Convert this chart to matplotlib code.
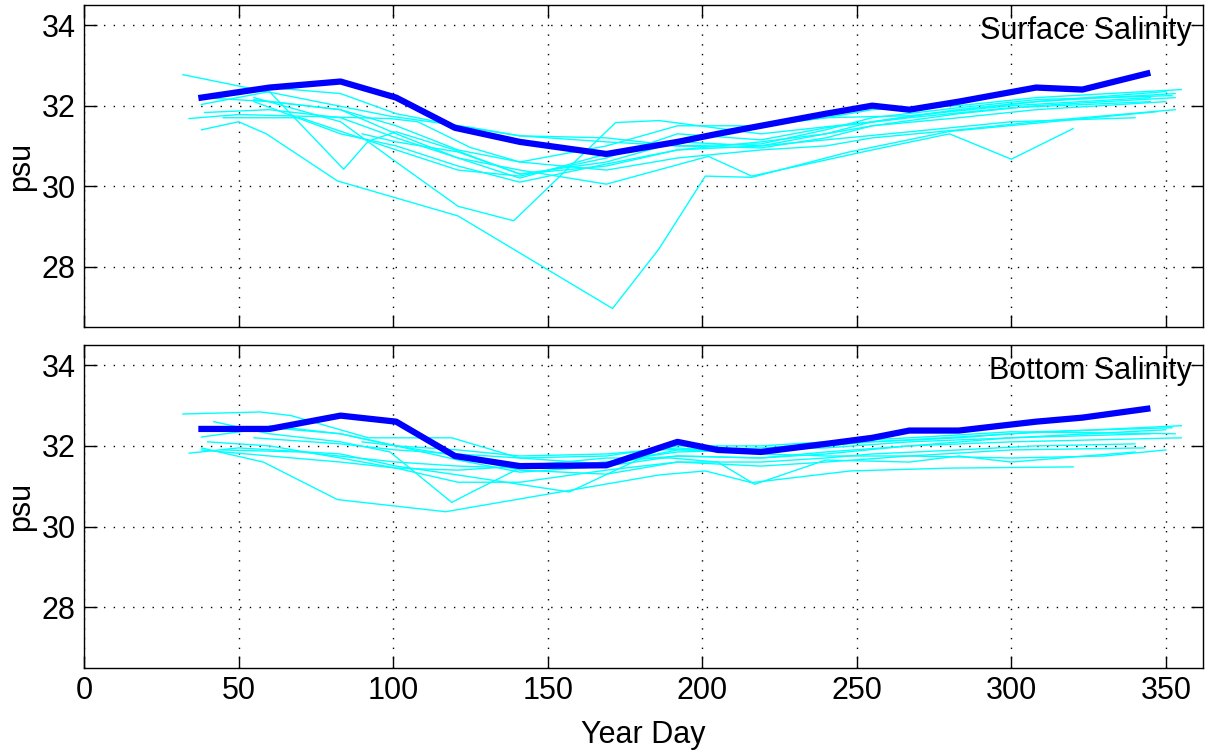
import matplotlib.pyplot as plt

plt.rcParams['font.family'] = ['Liberation Sans', 'DejaVu Sans']

# mean (thick blue) curves
mean_days = [38, 60, 83, 101, 120, 141, 169, 192, 205, 219, 240, 255, 267, 283, 308, 323, 344]
surf_mean = [32.2, 32.45, 32.6, 32.2, 31.45, 31.1, 30.8, 31.1, 31.3, 31.5, 31.8, 32.0, 31.9, 32.1, 32.45, 32.4, 32.8]
bot_mean = [32.42, 32.42, 32.75, 32.6, 31.75, 31.5, 31.52, 32.1, 31.9, 31.85, 32.05, 32.2, 32.38, 32.38, 32.6, 32.7, 32.92]

# individual years (thin cyan), surface
surf_days = [
    [32, 59, 99, 125, 141, 169, 192, 219, 240, 255, 283, 308, 353],
    [34, 50, 99, 108, 125, 141, 169, 192, 219, 240, 255, 283, 308, 353],
    [38, 50, 59, 82, 121, 171, 186, 201, 216, 247, 280, 347],
    [55, 83, 101, 121, 139, 172, 186, 219, 255, 283, 308, 353],
    [38, 60, 84, 92, 101, 120, 141, 169, 192, 219, 240, 255, 283, 308, 350],
    [55, 83, 101, 121, 141, 169, 202, 216, 240, 255, 280, 300, 320],
    [39, 60, 83, 101, 121, 141, 169, 192, 219, 240, 255, 283, 308, 350],
    [38, 60, 83, 101, 121, 141, 169, 192, 219, 240, 255, 283, 308, 355],
    [60, 83, 101, 121, 141, 169, 192, 219, 240, 255, 283, 308, 352],
    [55, 83, 101, 121, 141, 169, 192, 219, 240, 267, 300, 340],
    [45, 70, 101, 121, 141, 169, 192, 219, 240, 267, 300, 345],
    [90, 101, 121, 141, 169, 192, 219, 240, 267, 300, 345],
]
surf_vals = [
    [32.77, 32.35, 31.74, 31.46, 31.25, 31.1, 31.0, 30.95, 31.2, 31.5, 31.8, 32.0, 32.2],
    [31.68, 31.78, 31.68, 31.6, 30.96, 30.6, 30.4, 30.7, 30.9, 31.0, 31.2, 31.4, 31.6, 31.9],
    [31.4, 31.6, 31.3, 30.13, 29.26, 26.96, 28.44, 30.25, 30.22, 30.84, 31.36, 31.85],
    [32.2, 31.6, 30.6, 29.5, 29.14, 31.58, 31.63, 31.3, 31.6, 31.9, 32.1, 32.3],
    [32.03, 32.35, 30.42, 31.12, 31.35, 30.9, 30.3, 30.5, 30.9, 31.1, 31.3, 31.5, 31.7, 31.9, 32.1],
    [32.15, 31.9, 31.3, 30.7, 30.4, 30.05, 30.74, 30.25, 30.65, 30.9, 31.3, 30.67, 31.43],
    [31.83, 31.9, 31.7, 31.2, 30.7, 30.2, 30.8, 31.1, 31.0, 31.3, 31.6, 31.9, 32.1, 32.35],
    [32.2, 32.1, 31.9, 31.5, 30.9, 30.6, 31.0, 31.5, 31.5, 31.7, 31.9, 32.0, 32.2, 32.4],
    [32.45, 32.3, 31.8, 31.5, 31.25, 31.2, 31.0, 31.05, 31.4, 31.7, 31.95, 32.15, 32.25],
    [32.1, 31.3, 31.0, 30.5, 30.1, 30.55, 30.9, 31.0, 31.15, 31.35, 31.6, 31.7],
    [31.7, 31.7, 30.9, 30.4, 30.25, 30.7, 31.3, 31.15, 31.45, 31.7, 31.95, 32.1],
    [31.3, 31.1, 30.85, 30.3, 30.6, 31.1, 31.5, 31.7, 31.75, 32.0, 32.2],
]

# individual years, bottom
bot_days = [
    [32, 57, 67, 92, 119, 141, 169, 192, 219, 240, 255, 283, 308, 352],
    [38, 60, 83, 101, 121, 141, 169, 192, 219, 240, 255, 283, 308, 340],
    [38, 58, 82, 117, 186, 201, 216, 248, 280, 320],
    [42, 60, 83, 99, 119, 125, 141, 169, 192, 219, 240, 267, 300, 345],
    [34, 50, 83, 101, 121, 157, 186, 219, 240, 267, 300, 355],
    [45, 70, 101, 121, 141, 169, 192, 219, 240, 267, 300, 350],
    [55, 83, 101, 121, 141, 169, 192, 219, 240, 267, 300, 353],
    [40, 60, 83, 101, 121, 141, 169, 192, 219, 240, 267, 300, 343],
    [90, 101, 121, 141, 169, 192, 219, 240, 267, 300, 330, 350],
    [60, 83, 101, 121, 141, 169, 192, 219, 240, 267, 300, 355],
    [38, 60, 83, 101, 121, 141, 169, 190, 205, 217, 240, 267, 283, 300, 340],
]
bot_vals = [
    [32.79, 32.84, 32.75, 32.2, 32.2, 31.7, 31.55, 31.9, 31.85, 32.0, 32.1, 32.2, 32.35, 32.45],
    [32.22, 32.45, 32.3, 32.0, 31.75, 31.4, 31.3, 31.6, 31.6, 31.7, 31.8, 31.9, 32.0, 32.05],
    [31.95, 31.6, 30.67, 30.37, 31.28, 31.38, 31.09, 31.38, 31.45, 31.48],
    [32.6, 32.3, 32.1, 31.85, 30.6, 30.84, 31.45, 31.6, 31.75, 31.7, 31.8, 32.0, 32.2, 32.3],
    [31.82, 31.95, 31.8, 31.5, 31.28, 30.86, 31.9, 31.95, 32.05, 32.15, 32.3, 32.5],
    [31.9, 31.85, 31.6, 31.5, 31.45, 31.6, 31.85, 31.9, 31.95, 32.1, 32.2, 32.4],
    [32.2, 32.05, 31.9, 31.8, 31.7, 31.75, 32.0, 32.0, 32.1, 32.2, 32.35, 32.3],
    [32.1, 32.0, 31.7, 31.45, 31.1, 31.1, 31.4, 31.6, 31.5, 31.6, 31.75, 31.9, 31.95],
    [32.1, 32.0, 31.9, 31.75, 31.8, 31.95, 31.8, 31.75, 31.75, 31.7, 31.75, 31.9],
    [32.5, 32.3, 32.0, 31.65, 31.35, 31.5, 31.75, 31.7, 31.85, 32.0, 32.1, 32.2],
    [31.9, 31.75, 31.6, 31.45, 31.4, 31.5, 31.7, 31.7, 31.6, 31.05, 31.65, 31.6, 31.75, 31.6, 31.85],
]

xticks = [0, 50, 100, 150, 200, 250, 300, 350]
yticks = [28, 30, 32, 34]

fig = plt.figure(figsize=(12.05, 7.53), dpi=100)
ax1 = fig.add_axes([0.0697, 0.5657, 0.9286, 0.4276])
ax2 = fig.add_axes([0.0697, 0.1129, 0.9286, 0.4290])

panels = [
    (ax1, surf_days, surf_vals, surf_mean, 'Surface Salinity'),
    (ax2, bot_days, bot_vals, bot_mean, 'Bottom Salinity'),
]
for ax, days, vals, mean, title in panels:
    for d, v in zip(days, vals):
        ax.plot(d, v, color='#00ffff', lw=1)
    ax.plot(mean_days, mean, color='#0000ff', lw=4.5)
    ax.set_xlim(0, 362)
    ax.set_ylim(26.5, 34.5)
    ax.set_xticks(xticks)
    ax.set_yticks(yticks)
    ax.grid(True, color='black', linestyle=(0, (1, 6)), lw=1)
    ax.tick_params(direction='in', top=True, right=True, labelsize=22, length=9, width=1, pad=6)
    ax.set_ylabel('psu', fontsize=22, labelpad=4)
    ax.text(0.99, 0.965, title, transform=ax.transAxes, ha='right', va='top', fontsize=22)
    for s in ax.spines.values():
        s.set_linewidth(1)

ax1.tick_params(labelbottom=False)
ax2.set_xlabel('Year Day', fontsize=22, labelpad=10)

fig.savefig('out.png', dpi=100)
